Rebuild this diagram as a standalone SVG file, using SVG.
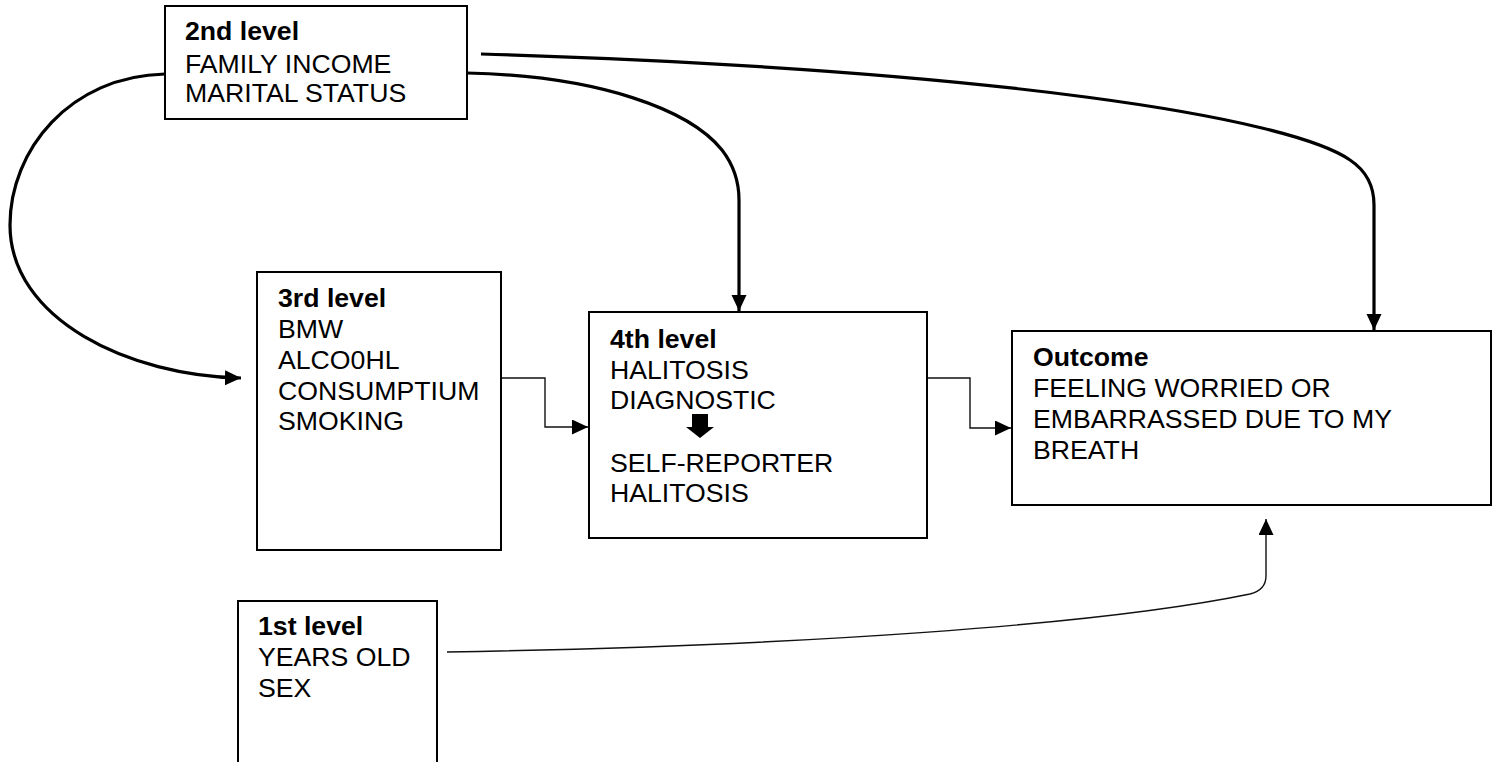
<svg xmlns="http://www.w3.org/2000/svg" width="1494" height="762" viewBox="0 0 1494 762">
  <style>
    .box { fill: #ffffff; stroke: #000000; stroke-width: 2; }
    .t { font-family: "Liberation Sans", Arial, sans-serif; font-size: 26.67px; fill: #000000; }
    .h { font-weight: bold; }
    .thick { fill: none; stroke: #000000; stroke-width: 3.2; }
    .thin { fill: none; stroke: #111111; stroke-width: 1.4; }
  </style>
  <defs>
    <marker id="head" markerUnits="userSpaceOnUse" markerWidth="17" markerHeight="16" refX="16" refY="7.5" orient="auto">
      <path d="M0,0 L16,7.5 L0,15 z" fill="#000000"/>
    </marker>
  </defs>

  <rect width="1494" height="762" fill="#ffffff"/>

  <!-- connectors -->
  <g id="connectors">
    <!-- 2nd level to 3rd level (loop on the left) -->
    <path class="thick" d="M165,74 C70,76 10,150 10,225 C10,320 130,376 241,378" marker-end="url(#head)"/>
    <!-- 2nd level to 4th level -->
    <path class="thick" d="M467,73 C600,76 690,110 722,150 Q739,172 739,200 L739,311" marker-end="url(#head)"/>
    <!-- 2nd level to outcome -->
    <path class="thick" d="M481,54 C1000,70 1290,118 1350,160 Q1374,176 1374,205 L1374,330" marker-end="url(#head)"/>
    <!-- 3rd level to 4th level -->
    <path class="thin" d="M501,378 L545,378 L545,427 L588,427" marker-end="url(#head)"/>
    <!-- 4th level to outcome -->
    <path class="thin" d="M927,378 L970,378 L970,428 L1011,428" marker-end="url(#head)"/>
    <!-- 1st level to outcome -->
    <path class="thin" d="M447,652 C800,646 1100,625 1250,594 Q1266,590 1266,576 L1266,519" marker-end="url(#head)"/>
  </g>

  <g id="level2">
    <rect class="box" x="165" y="6" width="302" height="113"/>
    <text class="t h" x="185" y="40">2nd level</text>
    <text class="t" x="185" y="73">FAMILY INCOME</text>
    <text class="t" x="185" y="102">MARITAL STATUS</text>
  </g>

  <g id="level3">
    <rect class="box" x="257" y="272" width="244" height="278"/>
    <text class="t h" x="278" y="307">3rd level</text>
    <text class="t" x="278" y="338">BMW</text>
    <text class="t" x="278" y="369">ALCO0HL</text>
    <text class="t" x="278" y="400">CONSUMPTIUM</text>
    <text class="t" x="278" y="430">SMOKING</text>
  </g>

  <g id="level4">
    <rect class="box" x="589" y="312" width="338" height="226"/>
    <text class="t h" x="610" y="348">4th level</text>
    <text class="t" x="610" y="379">HALITOSIS</text>
    <text class="t" x="610" y="409">DIAGNOSTIC</text>
    <polygon points="692,414 708,414 708,427 714,427 700,438 686,427 692,427" fill="#000000"/>
    <text class="t" x="610" y="472">SELF-REPORTER</text>
    <text class="t" x="610" y="502">HALITOSIS</text>
  </g>

  <g id="outcome">
    <rect class="box" x="1012" y="331" width="479" height="174"/>
    <text class="t h" x="1033" y="366">Outcome</text>
    <text class="t" x="1033" y="397">FEELING WORRIED OR</text>
    <text class="t" x="1033" y="428">EMBARRASSED DUE TO MY</text>
    <text class="t" x="1033" y="459">BREATH</text>
  </g>

  <g id="level1">
    <rect class="box" x="238" y="601" width="199" height="175"/>
    <text class="t h" x="258" y="635">1st level</text>
    <text class="t" x="258" y="666">YEARS OLD</text>
    <text class="t" x="258" y="697">SEX</text>
  </g>
</svg>
